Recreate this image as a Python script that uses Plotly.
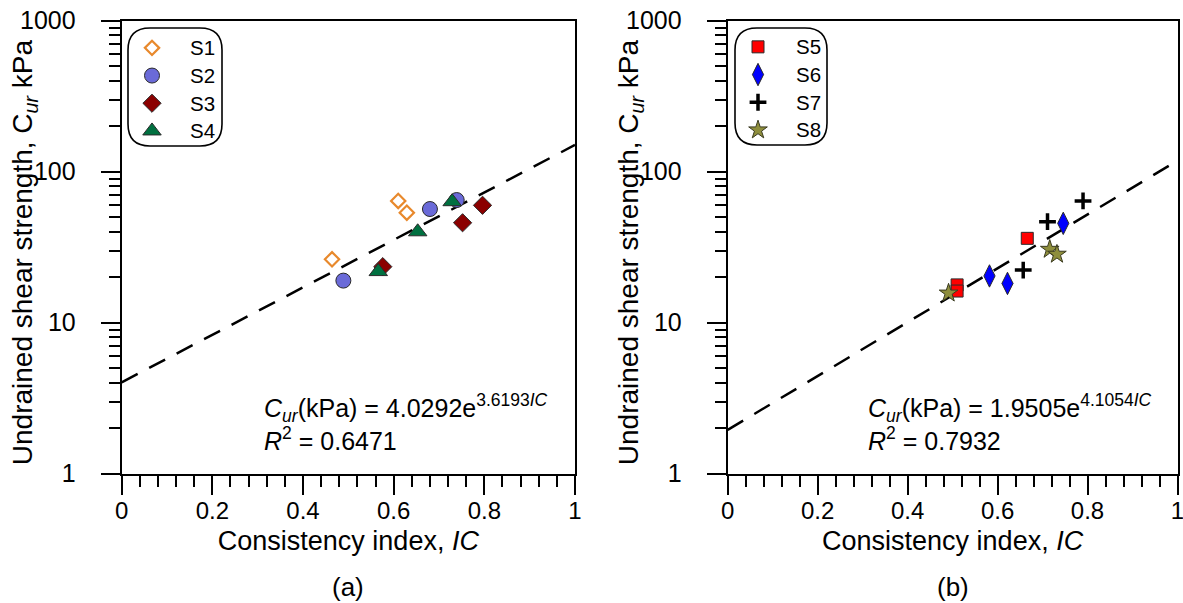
import numpy as np
import plotly.graph_objects as go

W, H = 1183, 603
FONT = "Liberation Sans, Arial, sans-serif"

# ---- panel (a): consistency index vs. remoulded undrained shear strength ----
s1_ic = [0.610, 0.629, 0.464]
s1_cu = [64.0, 53.5, 26.3]
s2_ic = [0.680, 0.739, 0.489]
s2_cu = [56.6, 64.9, 19.0]
s3_ic = [0.796, 0.752, 0.576]
s3_cu = [59.9, 45.9, 23.5]
s4_ic = [0.729, 0.653, 0.566]
s4_cu = [63.3, 40.0, 21.8]
fit_a = dict(a=4.0292, b=3.6193, r2=0.6471)

# ---- panel (b) ----
s5_ic = [0.666, 0.510, 0.510]
s5_cu = [36.2, 17.8, 16.2]
s6_ic = [0.746, 0.582, 0.622]
s6_cu = [45.5, 20.4, 18.2]
s7_ic = [0.790, 0.711, 0.657]
s7_cu = [64.0, 46.7, 22.3]
s8_ic = [0.716, 0.732, 0.491]
s8_cu = [30.6, 28.4, 15.7]
fit_b = dict(a=1.9505, b=4.1054, r2=0.7932)

x_ticks = [0, 0.2, 0.4, 0.6, 0.8, 1]
x_ticktext = ["0", "0.2", "0.4", "0.6", "0.8", "1"]
y_ticks = [1, 10, 100, 1000]
y_ticktext = ["1", "10", "100", "1000"]
y_minor = [m * 10 ** k for k in range(3) for m in range(2, 10)]

X_TITLE = "Consistency index, <i>IC</i>"
Y_TITLE = "Undrained shear strength, C<sub><i>ur</i></sub> kPa"

# panel placement in pixels (left, right, top, bottom)
PANELS = [(121.7, 575.0, 20.7, 473.7), (727.7, 1177.5, 20.7, 473.7)]


def px_x(p):
    return p / W


def px_y(p):
    return 1 - p / H


fig = go.Figure()

ic_line = np.linspace(0, 1, 21)


def add_fit(fit, xa, ya):
    fig.add_trace(go.Scatter(
        x=ic_line, y=fit["a"] * np.exp(fit["b"] * ic_line),
        mode="lines", xaxis=xa, yaxis=ya, showlegend=False, hoverinfo="skip",
        line=dict(color="black", width=2.5, dash="18px,13px")))


add_fit(fit_a, "x", "y")
add_fit(fit_b, "x2", "y2")

outline = dict(color="#2a2a2a", width=1)
series_a = [
    ("S1", s1_ic, s1_cu, dict(symbol="diamond", size=11, color="white",
                              line=dict(color="#e8892c", width=2.2))),
    ("S2", s2_ic, s2_cu, dict(symbol="circle", size=15, color="#6a6ad8", line=outline)),
    ("S3", s3_ic, s3_cu, dict(symbol="diamond", size=14, color="#8b0000", line=outline)),
    ("S4", s4_ic, s4_cu, dict(symbol="triangle-up", size=16, color="#007040", line=outline)),
]
series_b = [
    ("S5", s5_ic, s5_cu, dict(symbol="square", size=12, color="#ff0000", line=outline)),
    ("S6", s6_ic, s6_cu, dict(symbol="diamond-tall", size=16, color="#0000ff", line=outline)),
    ("S7", s7_ic, s7_cu, dict(symbol="cross-thin", size=12, color="black",
                              line=dict(color="black", width=3.5))),
    ("S8", s8_ic, s8_cu, dict(symbol="star", size=14, color="#8e8e3c",
                              line=dict(color="#3a3a20", width=1))),
]


def legend_name(name):
    return f"<span style='font-size:20.5px'>{name}</span>"


for name, xs, ys, mk in series_a:
    fig.add_trace(go.Scatter(x=xs, y=ys, mode="markers", name=legend_name(name),
                             marker=mk, xaxis="x", yaxis="y", legend="legend"))
for name, xs, ys, mk in series_b:
    fig.add_trace(go.Scatter(x=xs, y=ys, mode="markers", name=legend_name(name),
                             marker=mk, xaxis="x2", yaxis="y2", legend="legend2"))


def x_axis(dom, anchor):
    return dict(
        domain=dom, anchor=anchor, range=[0, 1], tickmode="array",
        tickvals=x_ticks, ticktext=x_ticktext, automargin=False,
        ticks="outside", ticklen=19, tickwidth=2, tickcolor="black",
        ticklabelstandoff=-5, ticklabeloverflow="allow",
        showline=True, linecolor="black", linewidth=2, mirror=True,
        showgrid=False, zeroline=False,
        tickfont=dict(family=FONT, size=24, color="black"),
        minor=dict(tickvals=[i * 0.04 for i in range(26)], ticks="outside",
                   ticklen=11, tickwidth=1.5, tickcolor="black", showgrid=False),
        title=dict(text=X_TITLE, font=dict(family=FONT, size=27, color="black"),
                   standoff=9),
    )


def y_axis(dom, anchor):
    return dict(
        domain=dom, anchor=anchor, type="log", range=[0, 3], tickmode="array",
        tickvals=y_ticks, ticktext=y_ticktext, automargin=False,
        ticks="outside", ticklen=19, tickwidth=2, tickcolor="black",
        ticklabelstandoff=20, ticklabeloverflow="allow",
        showline=True, linecolor="black", linewidth=2, mirror=True,
        showgrid=False, zeroline=False,
        tickfont=dict(family=FONT, size=25, color="black"),
        minor=dict(tickvals=y_minor, ticks="outside", ticklen=11, tickwidth=1.5,
                   tickcolor="black", showgrid=False),
    )


(l1, r1, t1, b1), (l2, r2, t2, b2) = PANELS
ydom = [px_y(b1), px_y(t1)]
legend_common = dict(xanchor="left", yanchor="top",
                     font=dict(family=FONT, size=19, color="black"), itemwidth=66,
                     bgcolor="rgba(0,0,0,0)", borderwidth=0, tracegroupgap=0)
fig.update_layout(
    width=W, height=H, margin=dict(l=0, r=0, t=0, b=0, autoexpand=False),
    paper_bgcolor="white", plot_bgcolor="white",
    font=dict(family=FONT, color="black"),
    xaxis=x_axis([px_x(l1), px_x(r1)], "y"),
    yaxis=y_axis(ydom, "x"),
    xaxis2=x_axis([px_x(l2), px_x(r2)], "y2"),
    yaxis2=y_axis(ydom, "x2"),
    legend=dict(x=px_x(114), y=px_y(29), **legend_common),
    legend2=dict(x=px_x(720), y=px_y(28), **legend_common),
)

# vertical axis titles
for x_px in (24, 630):
    fig.add_annotation(text=Y_TITLE, textangle=-90, x=px_x(x_px),
                       y=px_y((t1 + b1) / 2 + 5),
                       xref="paper", yref="paper", xanchor="center", yanchor="middle",
                       showarrow=False, font=dict(family=FONT, size=28, color="black"))


def rounded_box(x0, y0, x1, y1, r):
    X = lambda v: f"{px_x(v):.5f}"
    Y = lambda v: f"{px_y(v):.5f}"
    return (f"M {X(x0 + r)},{Y(y0)} L {X(x1 - r)},{Y(y0)} "
            f"Q {X(x1)},{Y(y0)} {X(x1)},{Y(y0 + r)} L {X(x1)},{Y(y1 - r)} "
            f"Q {X(x1)},{Y(y1)} {X(x1 - r)},{Y(y1)} L {X(x0 + r)},{Y(y1)} "
            f"Q {X(x0)},{Y(y1)} {X(x0)},{Y(y1 - r)} L {X(x0)},{Y(y0 + r)} "
            f"Q {X(x0)},{Y(y0)} {X(x0 + r)},{Y(y0)} Z")


for box in [(128, 28, 222, 146), (735, 28, 827, 145)]:
    fig.add_shape(type="path", path=rounded_box(*box, 22), xref="paper", yref="paper",
                  line=dict(color="black", width=1.6))


def add_equation(fit, x_px):
    fig.add_annotation(
        text=f"<i>C<sub>ur</sub></i>(kPa) = {fit['a']:.4f}e<sup>{fit['b']:.4f}<i>IC</i></sup>",
        x=px_x(x_px), y=px_y(408), xref="paper", yref="paper",
        xanchor="left", yanchor="middle", showarrow=False,
        font=dict(family=FONT, size=25, color="black"))
    fig.add_annotation(
        text=f"<i>R</i><sup>2</sup> = {fit['r2']:.4f}",
        x=px_x(x_px), y=px_y(439), xref="paper", yref="paper",
        xanchor="left", yanchor="middle", showarrow=False,
        font=dict(family=FONT, size=25, color="black"))


add_equation(fit_a, 262)
add_equation(fit_b, 866)

for label, (l, r, _, _) in zip(["(a)", "(b)"], PANELS):
    fig.add_annotation(text=label, x=px_x((l + r) / 2), y=px_y(587), xref="paper",
                       yref="paper", xanchor="center", yanchor="middle", showarrow=False,
                       font=dict(family=FONT, size=26, color="black"))

fig.write_html("out.html")
